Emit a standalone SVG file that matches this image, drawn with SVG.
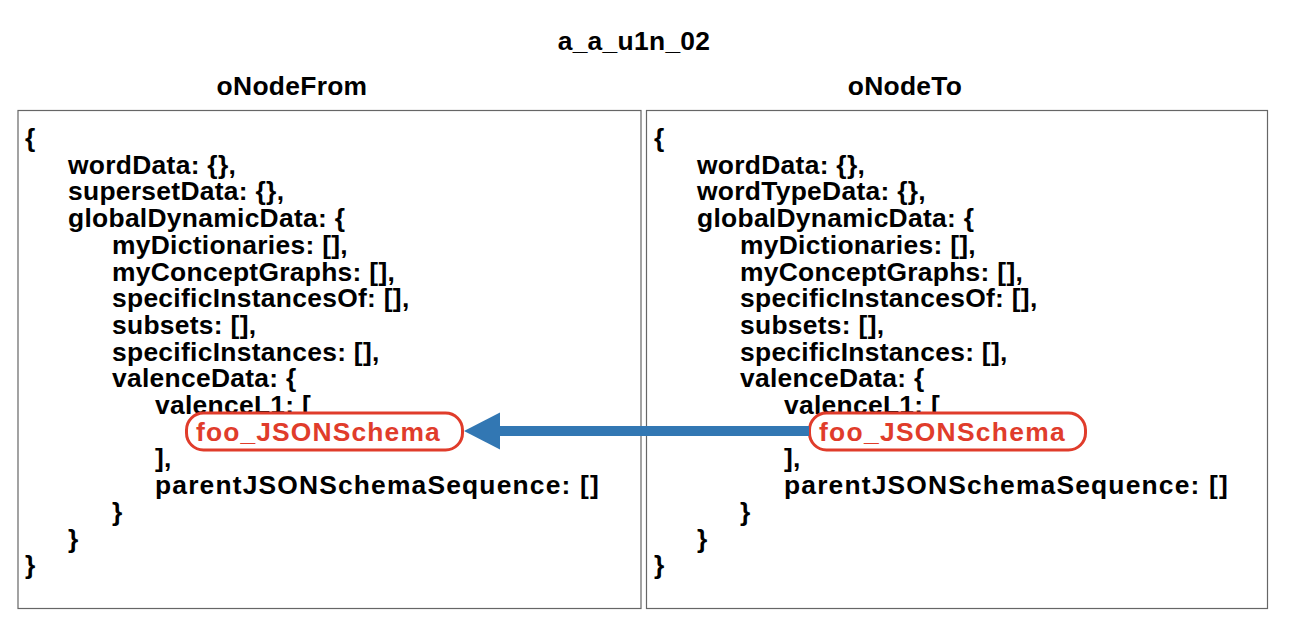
<svg xmlns="http://www.w3.org/2000/svg" width="1294" height="626" viewBox="0 0 1294 626">
<style>
text{font-family:"Liberation Sans",Arial,Helvetica,sans-serif;font-weight:bold;font-size:26.4px;letter-spacing:0.3px;fill:#000}
.t{text-anchor:middle}
.box{fill:#fff;stroke:#666;stroke-width:1.2}
.pill{fill:#fff;stroke:#e03c2b;stroke-width:3}
.red{fill:#e03c2b}
</style>
<defs>
<marker id="ah" markerUnits="userSpaceOnUse" markerWidth="38" markerHeight="38" refX="0" refY="18.5" orient="auto" viewBox="0 0 38 37">
<path d="M36,18.5 L0,0 L0,37 Z" fill="#3277b3"/>
</marker>
</defs>
<rect width="1294" height="626" fill="#fff"/>
<text class="t" x="634" y="50">a_a_u1n_02</text>
<text class="t" x="292" y="95">oNodeFrom</text>
<text class="t" x="905" y="95">oNodeTo</text>
<g id="oNodeFrom">
<rect class="box" x="18" y="110.5" width="623" height="498"/>
<text x="25" y="147">{</text>
<text x="68" y="173.7">wordData: {},</text>
<text x="68" y="200.4">supersetData: {},</text>
<text x="68" y="227.1">globalDynamicData: {</text>
<text x="112" y="253.8">myDictionaries: [],</text>
<text x="112" y="280.5">myConceptGraphs: [],</text>
<text x="112" y="307.2">specificInstancesOf: [],</text>
<text x="112" y="333.9">subsets: [],</text>
<text x="112" y="360.6">specificInstances: [],</text>
<text x="112" y="387.3">valenceData: {</text>
<text x="155" y="414">valenceL1: [</text>
<text x="155" y="467.4">],</text>
<text x="155" y="494.1" textLength="444" lengthAdjust="spacing">parentJSONSchemaSequence: []</text>
<text x="112" y="520.8">}</text>
<text x="68" y="547.5">}</text>
<text x="25" y="574.2">}</text>
</g>
<g id="oNodeTo">
<rect class="box" x="646.5" y="110.5" width="621" height="498"/>
<text x="654" y="147">{</text>
<text x="697" y="173.7">wordData: {},</text>
<text x="697" y="200.4">wordTypeData: {},</text>
<text x="697" y="227.1">globalDynamicData: {</text>
<text x="740" y="253.8">myDictionaries: [],</text>
<text x="740" y="280.5">myConceptGraphs: [],</text>
<text x="740" y="307.2">specificInstancesOf: [],</text>
<text x="740" y="333.9">subsets: [],</text>
<text x="740" y="360.6">specificInstances: [],</text>
<text x="740" y="387.3">valenceData: {</text>
<text x="784" y="414">valenceL1: [</text>
<text x="784" y="467.4">],</text>
<text x="784" y="494.1" textLength="444" lengthAdjust="spacing">parentJSONSchemaSequence: []</text>
<text x="740" y="520.8">}</text>
<text x="697" y="547.5">}</text>
<text x="654" y="574.2">}</text>
</g>
<g id="fooFrom">
<rect class="pill" x="186.5" y="413" width="276" height="37" rx="17"/>
<text class="red" x="196" y="441" textLength="244" lengthAdjust="spacing">foo_JSONSchema</text>
</g>
<g id="fooTo">
<rect class="pill" x="809.5" y="413" width="276" height="37" rx="17"/>
<text class="red" x="819" y="441" textLength="246" lengthAdjust="spacing">foo_JSONSchema</text>
</g>
<g id="connectors">
<line x1="809" y1="431" x2="500" y2="431" stroke="#3277b3" stroke-width="10" marker-end="url(#ah)"/>
</g>
</svg>
